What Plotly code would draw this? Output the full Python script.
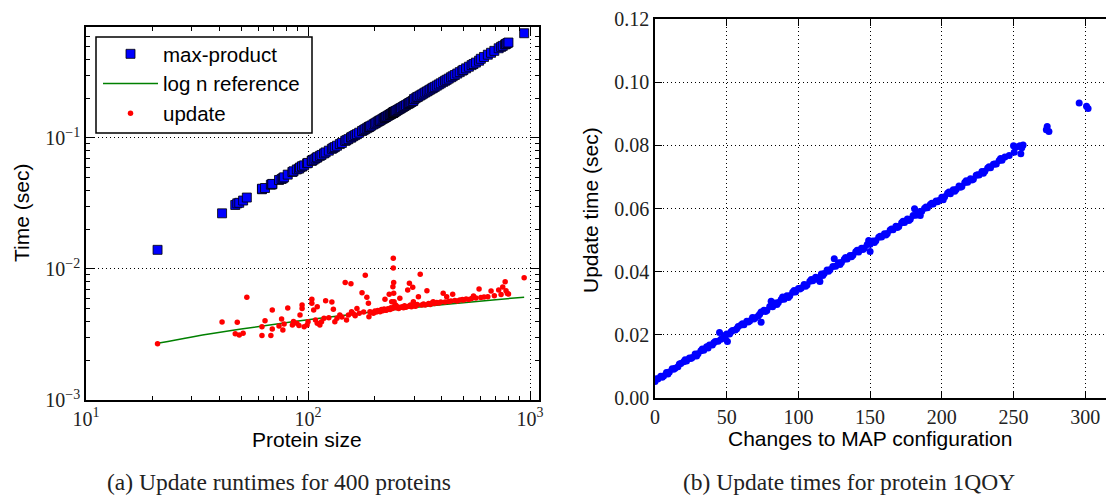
import plotly.graph_objects as go

# ---------------- Left panel data (400 proteins, subset) ----------
protein_size = [21, 41, 47, 48, 49, 51, 53, 62, 62, 64, 68, 69, 69, 74, 76, 77, 78, 81, 85, 86,
                89, 91, 92, 94, 94, 96, 99, 100, 104, 104, 106, 108, 110, 110, 113, 115, 118, 120,
                124, 128, 130, 132, 135, 139, 142, 147, 149, 152, 156, 157, 160, 163, 166, 170,
                175, 178, 181, 184, 187, 188, 190, 193, 197, 200, 203, 206, 209, 211, 214, 217,
                220, 222, 224, 226, 229, 232, 234, 236, 238, 240, 241, 242, 242, 243, 243, 244,
                245, 246, 248, 250, 253, 256, 259, 262, 266, 269, 272, 276, 281, 284, 286, 289,
                292, 296, 298, 300, 305, 310, 314, 320, 325, 331, 337, 343, 349, 355, 361, 366,
                372, 380, 388, 396, 406, 414, 421, 430, 440, 448, 458, 470, 482, 495, 501, 515,
                530, 545, 556, 570, 589, 600, 620, 645, 667, 690, 722, 740, 753, 772, 779, 790,
                799, 940]

maxproduct_time = [0.0140, 0.0266, 0.0308, 0.0317, 0.0320, 0.0333, 0.0351, 0.0406, 0.0410, 0.0415,
                   0.0440, 0.0443, 0.0446, 0.0478, 0.0486, 0.0493, 0.0501, 0.0525, 0.0550, 0.0557,
                   0.0575, 0.0583, 0.0595, 0.0605, 0.0608, 0.0618, 0.0640, 0.0645, 0.0670, 0.0672,
                   0.0683, 0.0697, 0.0710, 0.0712, 0.0730, 0.0742, 0.0762, 0.0776, 0.0800, 0.0826,
                   0.0840, 0.0852, 0.0872, 0.0898, 0.0916, 0.0950, 0.0962, 0.0980, 0.1006, 0.1013,
                   0.1033, 0.1052, 0.1070, 0.1097, 0.1130, 0.1148, 0.1168, 0.1187, 0.1206, 0.1213,
                   0.1226, 0.1245, 0.1271, 0.1290, 0.1310, 0.1330, 0.1350, 0.1361, 0.1381, 0.1400,
                   0.1420, 0.1433, 0.1446, 0.1459, 0.1478, 0.1497, 0.1510, 0.1523, 0.1536, 0.1549,
                   0.1556, 0.1562, 0.1564, 0.1568, 0.1570, 0.1576, 0.1582, 0.1590, 0.1601, 0.1614,
                   0.1633, 0.1653, 0.1672, 0.1691, 0.1717, 0.1737, 0.1756, 0.1782, 0.1814, 0.1833,
                   0.1846, 0.1866, 0.1885, 0.1911, 0.1924, 0.1980, 0.2010, 0.2050, 0.2070, 0.2110,
                   0.2145, 0.2185, 0.2225, 0.2264, 0.2303, 0.2343, 0.2383, 0.2416, 0.2455, 0.2508,
                   0.2561, 0.2614, 0.2680, 0.2732, 0.2779, 0.2838, 0.2904, 0.2957, 0.3023, 0.3102,
                   0.3181, 0.3267, 0.3307, 0.3399, 0.3498, 0.3597, 0.3670, 0.3762, 0.3887, 0.4020,
                   0.4154, 0.4322, 0.4469, 0.4623, 0.4837, 0.4958, 0.5045, 0.5172, 0.5219, 0.5293,
                   0.5353, 0.6300]

update_time = [0.00269, 0.00394, 0.00321, 0.00392, 0.00313, 0.00323, 0.00608, 0.00363, 0.00310, 0.00403,
               0.00310, 0.00348, 0.00487, 0.00367, 0.00415, 0.00342, 0.00380, 0.00504, 0.00374, 0.00398,
               0.00386, 0.00370, 0.00446, 0.00531, 0.00499, 0.00363, 0.00374, 0.00395, 0.00588, 0.00548,
               0.00487, 0.00408, 0.00386, 0.00515, 0.00374, 0.00396, 0.00420, 0.00573, 0.00425, 0.00560,
               0.00493, 0.00396, 0.00421, 0.00446, 0.00430, 0.00787, 0.00408, 0.00445, 0.00773, 0.00472,
               0.00455, 0.00440, 0.00499, 0.00460, 0.00660, 0.00470, 0.00895, 0.00608, 0.00548, 0.00432,
               0.00472, 0.00465, 0.00460, 0.00478, 0.00470, 0.00482, 0.00475, 0.00472, 0.00490, 0.00480,
               0.00495, 0.00588, 0.00485, 0.00487, 0.00498, 0.00641, 0.00490, 0.00505, 0.00563, 0.00500,
               0.00732, 0.01208, 0.01018, 0.00787, 0.00652, 0.00563, 0.00520, 0.00510, 0.00530, 0.00505,
               0.00515, 0.00500, 0.00597, 0.00510, 0.00515, 0.00505, 0.00525, 0.00510, 0.00692, 0.00520,
               0.00778, 0.00530, 0.00515, 0.00724, 0.00563, 0.00525, 0.00520, 0.00535, 0.00615, 0.00911,
               0.00530, 0.00540, 0.00530, 0.00683, 0.00545, 0.00535, 0.00550, 0.00563, 0.00545, 0.00555,
               0.00550, 0.00560, 0.00652, 0.00560, 0.00615, 0.00565, 0.00570, 0.00641, 0.00575, 0.00570,
               0.00580, 0.00585, 0.00580, 0.00590, 0.00585, 0.00595, 0.00622, 0.00600, 0.00703, 0.00605,
               0.00610, 0.00615, 0.00679, 0.00625, 0.00692, 0.00640, 0.00729, 0.00800, 0.00683, 0.00650,
               0.00643, 0.00859]

# log n reference curve
ref_size = [21, 30, 50, 75, 100, 150, 200, 300, 500, 700, 940]
ref_time = [0.00271, 0.00303, 0.00348, 0.00384, 0.00410, 0.00446, 0.00472, 0.00508, 0.00553, 0.00583, 0.00609]

# ---------------- Right panel data (protein 1QOY) ----------------
changes_a = [0, 2, 4, 6, 8, 10, 12, 14, 16, 18, 20, 22, 24, 26, 28, 30, 32, 34, 36, 38, 40, 42, 44, 46, 48,
             50, 52, 54, 56, 58, 60, 62, 64, 66, 68, 70, 72, 74, 76, 78, 80, 82, 84, 86, 88, 90, 92, 94, 96, 98,
             100, 102, 104, 106, 108, 110, 112, 114, 116, 118, 120, 122, 124, 126, 128, 130, 132, 134, 136, 138,
             140, 142, 144, 146, 148, 150, 152, 154, 156, 158, 160, 162, 164, 166, 168, 170, 172, 174, 176, 178,
             180, 182, 184, 186, 188, 190, 192, 194, 196, 198, 200, 202, 204, 206, 208, 210, 212, 214, 216, 218,
             220, 222, 224, 226, 228, 230, 232, 234, 236, 238, 240, 242, 244]
upd_a = [0.0052, 0.0060, 0.0069, 0.0070, 0.0081, 0.0082, 0.0093, 0.0094, 0.0099, 0.0109, 0.0115, 0.0117,
         0.0127, 0.0128, 0.0139, 0.0140, 0.0150, 0.0151, 0.0162, 0.0168, 0.0168, 0.0179, 0.0180, 0.0186,
         0.0197, 0.0203, 0.0203, 0.0214, 0.0215, 0.0226, 0.0231, 0.0232, 0.0243, 0.0244, 0.0255, 0.0254,
         0.0260, 0.0272, 0.0278, 0.0277, 0.0290, 0.0289, 0.0301, 0.0302, 0.0312, 0.0313, 0.0324, 0.0324,
         0.0335, 0.0336, 0.0347, 0.0348, 0.0359, 0.0358, 0.0370, 0.0371, 0.0382, 0.0381, 0.0393, 0.0394,
         0.0405, 0.0406, 0.0416, 0.0417, 0.0428, 0.0429, 0.0439, 0.0440, 0.0451, 0.0452, 0.0463, 0.0462,
         0.0474, 0.0475, 0.0486, 0.0487, 0.0497, 0.0498, 0.0509, 0.0510, 0.0520, 0.0521, 0.0532, 0.0533,
         0.0544, 0.0543, 0.0555, 0.0556, 0.0567, 0.0566, 0.0578, 0.0579, 0.0590, 0.0591, 0.0601, 0.0602,
         0.0613, 0.0614, 0.0624, 0.0625, 0.0636, 0.0637, 0.0648, 0.0647, 0.0659, 0.0660, 0.0671, 0.0670,
         0.0682, 0.0683, 0.0694, 0.0693, 0.0705, 0.0706, 0.0717, 0.0718, 0.0728, 0.0729, 0.0740, 0.0741,
         0.0752, 0.0753, 0.0763]
changes_b = [1, 5, 9, 13, 17, 21, 25, 29, 33, 37, 41, 45, 49, 53, 57, 61, 65, 69, 73, 77, 81, 85, 89, 93,
             97, 101, 105, 109, 113, 117, 121, 125, 129, 133, 137, 141, 145, 149, 153, 157, 161, 165, 169,
             173, 177, 181, 185, 189, 193, 197, 201, 205, 209, 213, 217, 221, 225, 229, 233, 237, 241]
upd_b = [0.0061, 0.0066, 0.0076, 0.0091, 0.0108, 0.0121, 0.0125, 0.0133, 0.0155, 0.0158, 0.0175, 0.0207,
         0.0189, 0.0210, 0.0219, 0.0235, 0.0241, 0.0250, 0.0265, 0.0274, 0.0306, 0.0296, 0.0320, 0.0318,
         0.0340, 0.0345, 0.0354, 0.0375, 0.0376, 0.0388, 0.0401, 0.0441, 0.0423, 0.0445, 0.0447, 0.0468,
         0.0470, 0.0499, 0.0492, 0.0512, 0.0516, 0.0535, 0.0540, 0.0560, 0.0562, 0.0599, 0.0578, 0.0605,
         0.0617, 0.0621, 0.0628, 0.0652, 0.0655, 0.0667, 0.0688, 0.0690, 0.0707, 0.0712, 0.0732, 0.0741,
         0.0758]
changes_c = [50.5, 74, 115, 150, 247, 250, 252, 254.4, 256.7, 250.5, 255.1, 255.8, 273.5, 272.9, 274.7,
             295.8, 300.9, 302]
upd_c = [0.0179, 0.0240, 0.0369, 0.0464, 0.0768, 0.0799, 0.0795, 0.0799, 0.0801, 0.0778, 0.0773, 0.0792,
         0.0860, 0.0849, 0.0844, 0.0934, 0.0924, 0.0917]

map_changes = changes_a + changes_b + changes_c
map_update_time = upd_a + upd_b + upd_c

# ---------------- Figure ----------------
W, H = 1106, 496
SERIF = "Liberation Serif, Times New Roman, serif"
SANS = "Liberation Sans, Arial, sans-serif"

fig = go.Figure()

fig.add_trace(go.Scatter(
    x=protein_size, y=maxproduct_time, mode="markers", name="max-product",
    marker=dict(symbol="square", size=9, color="#0000ff", line=dict(color="black", width=0.8)),
    xaxis="x", yaxis="y"))
fig.add_trace(go.Scatter(
    x=ref_size, y=ref_time, mode="lines", name="log n reference", line_shape="spline",
    line=dict(color="#008000", width=1.5), xaxis="x", yaxis="y"))
fig.add_trace(go.Scatter(
    x=protein_size, y=update_time, mode="markers", name="update",
    marker=dict(symbol="circle", size=5.5, color="#ff0000", line=dict(width=0)),
    xaxis="x", yaxis="y"))
fig.add_trace(go.Scatter(
    x=map_changes, y=map_update_time, mode="markers", showlegend=False,
    marker=dict(symbol="circle", size=7, color="#0000ff", line=dict(width=0)),
    xaxis="x2", yaxis="y2"))


def px_x(p):
    return p / W


def px_y(p):
    return (H - p) / H


tickfont = dict(family=SERIF, size=20, color="#222222")
grid = dict(showgrid=True, gridcolor="black", griddash="1px,3px", gridwidth=1)

x_minor = [20, 30, 40, 50, 60, 70, 80, 90, 200, 300, 400, 500, 600, 700, 800, 900]
y_minor = [0.002, 0.003, 0.004, 0.005, 0.006, 0.007, 0.008, 0.009,
           0.02, 0.03, 0.04, 0.05, 0.06, 0.07, 0.08, 0.09, 0.2, 0.3, 0.4, 0.5, 0.6]

fig.update_layout(
    width=W, height=H, margin=dict(l=0, r=0, t=0, b=0, autoexpand=False),
    paper_bgcolor="white", plot_bgcolor="white",
    showlegend=True,
    legend=dict(x=px_x(98), y=px_y(34), xanchor="left", yanchor="top",
                bgcolor="rgba(0,0,0,0)", borderwidth=0,
                font=dict(family=SANS, size=20.5, color="black"),
                itemwidth=55, tracegroupgap=0),
    xaxis=dict(domain=[px_x(86), px_x(539)], type="log", range=[1, 3.04],
               tickvals=[10, 100, 1000],
               ticktext=["10<sup>1</sup>", "10<sup>2</sup>", "10<sup>3</sup>"],
               ticks="inside", ticklen=8, tickcolor="black", tickwidth=1,
               showline=True, linecolor="black", linewidth=1.5, mirror="allticks",
               tickfont=tickfont, anchor="y", automargin=False,
               minor=dict(tickvals=x_minor, ticks="inside", ticklen=4, tickcolor="black", showgrid=False),
               **grid),
    yaxis=dict(domain=[px_y(400), px_y(27)], type="log", range=[-3, -0.153],
               tickvals=[0.001, 0.01, 0.1],
               ticktext=["10<sup>−3</sup>", "10<sup>−2</sup>", "10<sup>−1</sup>"],
               ticks="inside", ticklen=8, tickcolor="black", tickwidth=1,
               showline=True, linecolor="black", linewidth=1.5, mirror="allticks",
               tickfont=tickfont, anchor="x", automargin=False,
               minor=dict(tickvals=y_minor, ticks="inside", ticklen=4, tickcolor="black", showgrid=False),
               **grid),
    xaxis2=dict(domain=[px_x(655), 1.0], range=[0, 314.5],
                tickvals=[0, 50, 100, 150, 200, 250, 300],
                ticks="inside", ticklen=7, tickcolor="black",
                showline=True, linecolor="black", linewidth=1.5, mirror="ticks",
                zeroline=False, tickfont=tickfont, anchor="y2", automargin=False, **grid),
    yaxis2=dict(domain=[px_y(398), px_y(19)], range=[0, 0.12],
                tickvals=[0, 0.02, 0.04, 0.06, 0.08, 0.10, 0.12],
                tickformat=".2f",
                ticks="inside", ticklen=7, tickcolor="black",
                showline=True, linecolor="black", linewidth=1.5, mirror=False,
                zeroline=False, tickfont=tickfont, anchor="x2", automargin=False, **grid),
)

# legend frame (white box with black border, as in the reference)
fig.add_shape(type="rect", xref="paper", yref="paper",
              x0=px_x(96), x1=px_x(312), y0=px_y(133), y1=px_y(37),
              fillcolor="white", line=dict(color="black", width=1.5), layer="above")

annots = [
    dict(text="Time (sec)", x=px_x(21), y=px_y(213), textangle=-90,
         font=dict(family=SANS, size=21, color="black")),
    dict(text="Protein size", x=px_x(307), y=px_y(439),
         font=dict(family=SANS, size=21, color="black")),
    dict(text="Update time (sec)", x=px_x(591), y=px_y(210), textangle=-90,
         font=dict(family=SANS, size=21, color="black")),
    dict(text="Changes to MAP configuration", x=px_x(870), y=px_y(438),
         font=dict(family=SANS, size=21, color="black")),
    dict(text="(a) Update runtimes for 400 proteins", x=px_x(279), y=px_y(482),
         font=dict(family=SERIF, size=23.5, color="#222222")),
    dict(text="(b) Update times for protein 1QOY", x=px_x(849), y=px_y(482),
         font=dict(family=SERIF, size=23.5, color="#222222")),
]
for a in annots:
    fig.add_annotation(xref="paper", yref="paper", showarrow=False,
                       xanchor="center", yanchor="middle", **a)

fig.write_html("out.html", config={"displayModeBar": False},
               post_script="document.body.style.margin='0px';document.body.style.padding='0px';")
